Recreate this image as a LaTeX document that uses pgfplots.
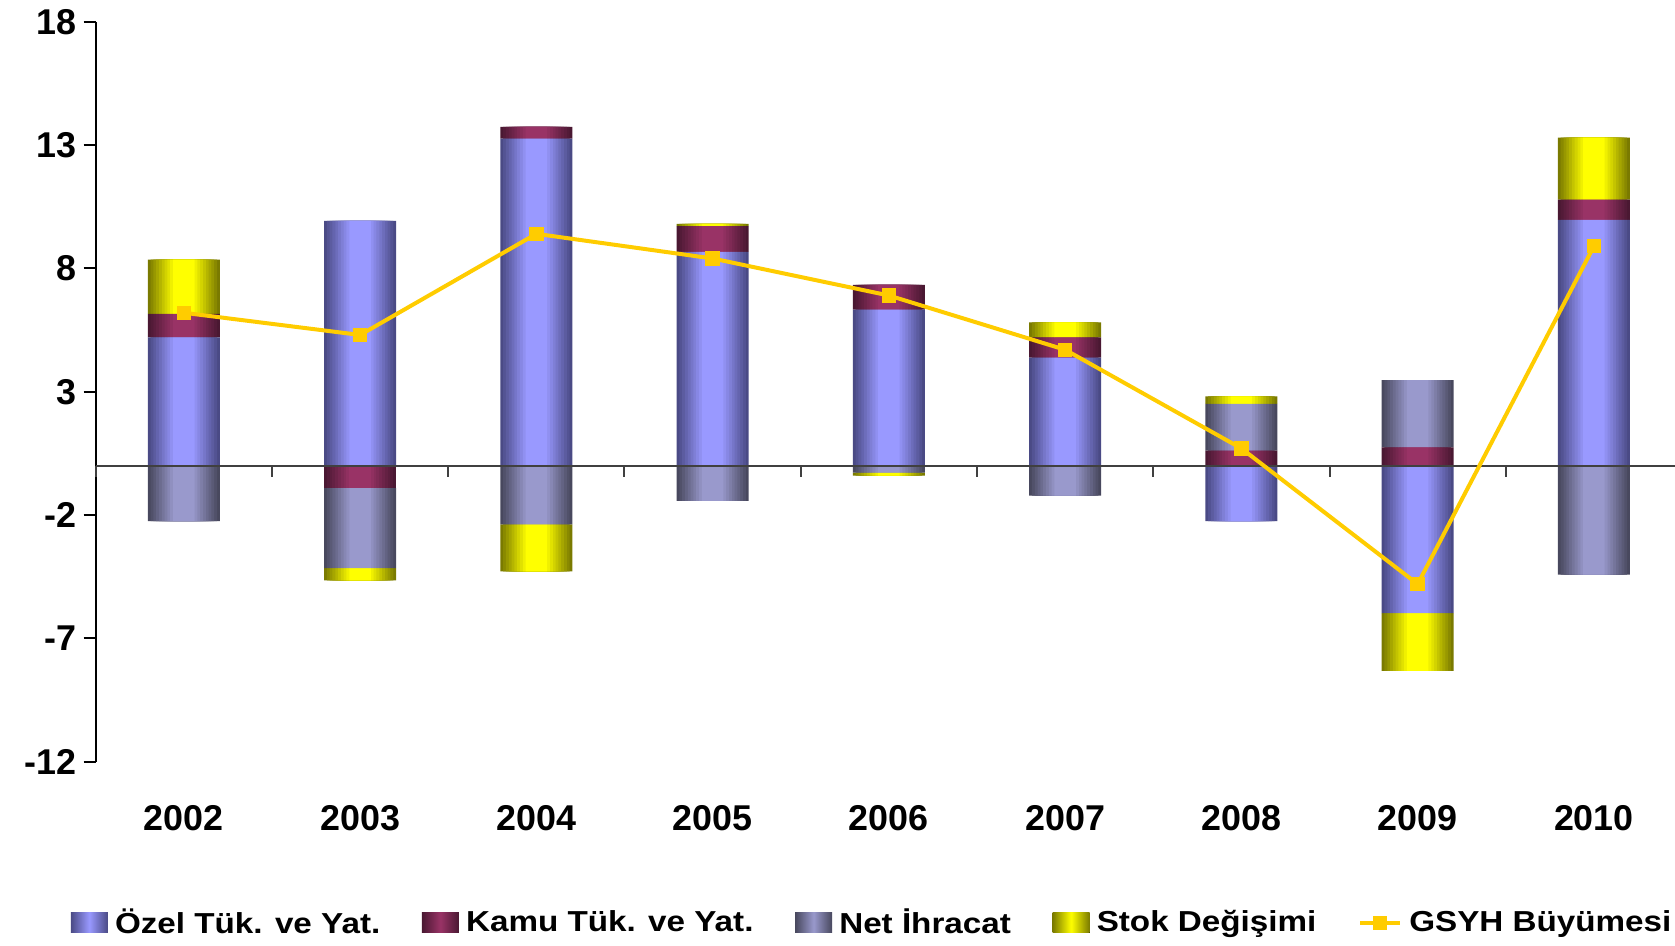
\documentclass[border=0pt]{standalone}
\usepackage{pgfplots}
\pgfplotsset{compat=1.18}
\usepackage{pgfplotstable}
\usepackage{fontspec}
\setmainfont{Liberation Sans}
\newfontfamily\legfont{Liberation Sans}[FakeStretch=1.15]

\definecolor{ozelC}{HTML}{9999FF}
\definecolor{ozelD}{HTML}{4A4A85}
\definecolor{kamuC}{HTML}{993366}
\definecolor{kamuD}{HTML}{4A1832}
\definecolor{netC}{HTML}{9999CC}
\definecolor{netD}{HTML}{48485E}
\definecolor{stokC}{HTML}{FFFF00}
\definecolor{stokD}{HTML}{7A7A00}
\definecolor{gsyh}{HTML}{FFCC00}

\tikzset{
  ozel/.style={draw=none, left color=ozelD, right color=ozelD, middle color=ozelC},
  kamu/.style={draw=none, left color=kamuD, right color=kamuD, middle color=kamuC},
  net/.style={draw=none, left color=netD, right color=netD, middle color=netC},
  stok/.style={draw=none, left color=stokD, right color=stokD, middle color=stokC},
}

% positive parts stack upwards, negative parts downwards (Excel style)
\pgfplotstableread{
x ozel kamu net stok
0 5.2 0.95 0 2.2
1 9.93 0 0 0
2 13.26 0.48 0 0
3 8.67 1.04 0 0.09
4 6.33 1.0 0 0
5 4.38 0.82 0 0.61
6 0 0.61 1.9 0.3
7 0 0.74 2.73 0
8 9.97 0.82 0 2.51
}\pos

\pgfplotstableread{
x ozel kamu net stok
0 0 0 -2.25 0
1 0 -0.9 -3.25 -0.5
2 0 0 -2.38 -1.9
3 0 0 -1.43 0
4 0 0 -0.28 -0.12
5 0 0 -1.21 0
6 -2.25 0 0 0
7 -5.98 0 0 -2.34
8 0 0 -4.42 0
}\neg

\pgfplotstableread{
x gsyh
0 6.2
1 5.3
2 9.4
3 8.4
4 6.9
5 4.7
6 0.7
7 -4.8
8 8.9
}\growth

\pgfplotsset{
  common/.style={
    width=789.65bp, height=370bp, scale only axis,
    xmin=-0.5, xmax=8.46, ymin=-12, ymax=18,
    /pgf/number format/assume math mode=true,
  },
  % one layer of the cylinder look: narrower and lighter each time
  layer/.style={common, hide axis, ybar stacked, bar width=#1bp},
  bar legend/.style={legend image code/.code={\fill[##1] (0bp,-5bp) rectangle (18.5bp,5bp);}},
  line legend gsyh/.style={legend image code/.code={\draw[mark repeat=2, mark phase=2, ##1] plot coordinates {(0bp,0bp) (10bp,0bp) (20bp,0bp)};}},
}

\begin{document}
\begin{tikzpicture}
% y axis only
\begin{axis}[common, name=main,
    axis y line=left, axis x line=none,
    ytick={-12,-7,...,18},
    tick align=outside, major tick length=6bp,
    y axis line style={-, black, line width=1bp},
    ytick style={black, line width=1bp},
    yticklabel style={font=\bfseries\fontsize{18}{20}\selectfont},
]
\end{axis}

\foreach \i in {0,...,9} {
  \pgfmathsetmacro\w{36-2.8*\i}
  \pgfmathsetmacro\t{100*\i/9}
  \begin{axis}[layer=\w]
  \addplot[draw=none, fill=ozelC!\t!ozelD] table[x=x,y=ozel] {\pos};
  \addplot[draw=none, fill=kamuC!\t!kamuD] table[x=x,y=kamu] {\pos};
  \addplot[draw=none, fill=netC!\t!netD]   table[x=x,y=net]  {\pos};
  \addplot[draw=none, fill=stokC!\t!stokD] table[x=x,y=stok] {\pos};
  \end{axis}
  \begin{axis}[layer=\w]
  \addplot[draw=none, fill=ozelC!\t!ozelD] table[x=x,y=ozel] {\neg};
  \addplot[draw=none, fill=kamuC!\t!kamuD] table[x=x,y=kamu] {\neg};
  \addplot[draw=none, fill=netC!\t!netD]   table[x=x,y=net]  {\neg};
  \addplot[draw=none, fill=stokC!\t!stokD] table[x=x,y=stok] {\neg};
  \end{axis}
}

% zero line with category ticks
\begin{axis}[common,
    axis y line=none, axis x line=middle, axis on top,
    xtick={-0.5,0.5,...,7.5}, xticklabels={},
    tick align=outside, major tick length=5.5bp,
    x axis line style={-, color=black!75, line width=1bp},
    xtick style={black!75, line width=1bp},
]
\end{axis}

% growth line, year labels, legend
\begin{axis}[common,
    hide y axis, axis x line*=bottom,
    x axis line style={draw=none}, xtick style={draw=none},
    xtick={0,...,8},
    xticklabels={2002,2003,2004,2005,2006,2007,2008,2009,2010},
    xticklabel style={font=\bfseries\fontsize{18}{20}\selectfont, yshift=-18.3bp},
    legend columns=5,
    legend style={at={(-0.016,-0.2176)}, anchor=west, draw=none, fill=none,
      inner xsep=0pt, inner ysep=0pt,
      font=\legfont\bfseries\fontsize{14.5}{16}\selectfont,
      /tikz/every odd column/.append style={column sep=1.6bp},
      /tikz/every even column/.append style={column sep=18.8bp}},
]
\addlegendimage{bar legend, ozel}
\addlegendentry{Özel Tük. ve Yat.}
\addlegendimage{bar legend, kamu}
\addlegendentry{Kamu Tük. ve Yat.}
\addlegendimage{bar legend, net}
\addlegendentry{Net İhracat}
\addlegendimage{bar legend, stok}
\addlegendentry{Stok Değişimi}
\addplot[gsyh, line width=2bp, mark=square*, mark size=2.6bp, line legend gsyh]
  table[x=x,y=gsyh] {\growth};
\addlegendentry{GSYH Büyümesi}
\end{axis}

\pgfresetboundingbox
\path ([shift={(-47.85bp,-92.15bp)}]main.south west) rectangle ([shift={(0bp,10.85bp)}]main.north east);
\end{tikzpicture}
\end{document}
